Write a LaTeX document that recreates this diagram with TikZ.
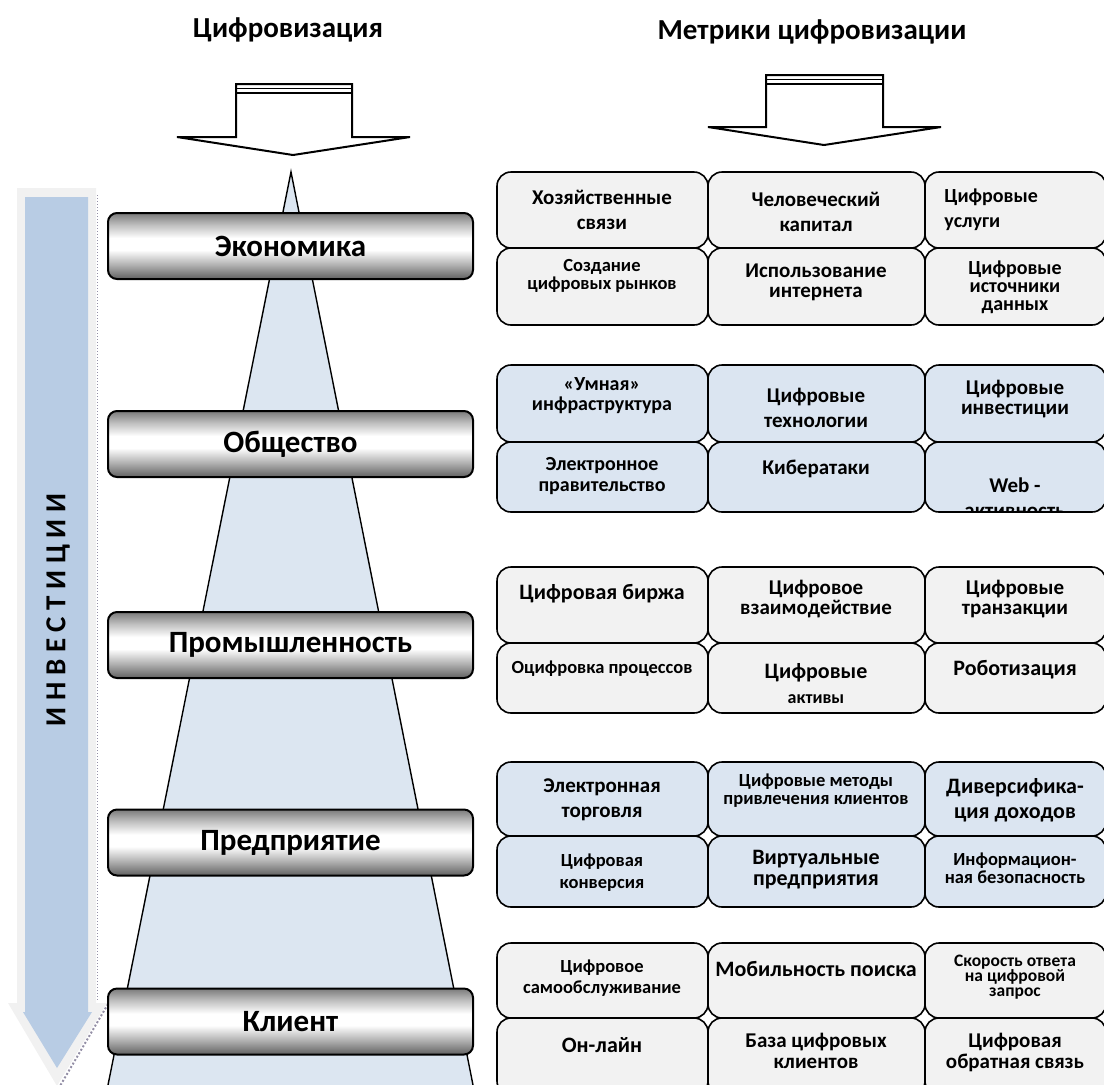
\documentclass[tikz,border=0pt]{standalone}
\usepackage{fontspec}
\setmainfont{Carlito}
\usetikzlibrary{positioning}

\newlength{\du}
\setlength{\du}{0.5pt}

\definecolor{cellgray}{rgb}{0.949020, 0.949020, 0.949020}
\definecolor{cellblue}{rgb}{0.858824, 0.898039, 0.945098}
\definecolor{conecolor}{rgb}{0.862745, 0.901961, 0.945098}
\definecolor{investfill}{rgb}{0.721569, 0.800000, 0.894118}
\definecolor{investrim}{rgb}{0.945098, 0.945098, 0.945098}
\definecolor{investshadow}{rgb}{0.580000, 0.560000, 0.650000}

\pgfdeclareverticalshading{metalbar}{100bp}{color(0bp)=(black!62); color(25bp)=(black!62); color(36bp)=(black!30); color(47bp)=(white); color(56bp)=(white); color(66bp)=(black!25); color(75bp)=(black!52); color(100bp)=(black!52)}

\tikzset{
  levelbar/.style={draw=black, line width=1pt, rounded corners=9\du, shading=metalbar,
    minimum width=365\du, minimum height=66\du, inner sep=0pt,
    font=\fontsize{15.5}{18}\selectfont\bfseries},
  metricbox/.style={draw=black, line width=0.8pt, rounded corners=14\du, inner sep=0pt},
  metrictext/.style={align=center, inner sep=0pt, font=\fontsize{10.5}{12.5}\selectfont\bfseries},
  smalltext/.style={metrictext, font=\fontsize{9.25}{9}\selectfont\bfseries},
  bigtext/.style={metrictext, font=\fontsize{11}{12.5}\selectfont\bfseries},
  header/.style={font=\fontsize{14.5}{17}\selectfont\bfseries, inner sep=0pt}
}

\begin{document}
\begin{tikzpicture}
\pgftransformxscale{1.000000}
\pgftransformyscale{-1.000000}
\useasboundingbox (0\du,0\du) rectangle (1104\du,1084\du);
\clip (0\du,0\du) rectangle (1104\du,1084\du);
% headers
\node[header] (digit) at (288\du,30\du) {Цифровизация};
\node[header] (metrics) at (812\du,32\du) {Метрики цифровизации};
% block arrows under the headers
\draw[line width=1pt, fill=white, line join=miter] (236\du,84\du)--(352\du,84\du)--(352\du,137\du)--(410\du,137\du)--(293\du,155\du)--(177\du,137\du)--(236\du,137\du)--cycle;
\draw[line width=0.6pt] (236\du,88.5\du)--(352\du,88.5\du);
\draw[line width=0.9pt] (236\du,93\du)--(352\du,93\du);
\draw[line width=1pt, fill=white, line join=miter] (766\du,75\du)--(883\du,75\du)--(883\du,127\du)--(941\du,127\du)--(824\du,145\du)--(708\du,127\du)--(766\du,127\du)--cycle;
\draw[line width=0.6pt] (766\du,79.5\du)--(883\du,79.5\du);
\draw[line width=0.9pt] (766\du,84\du)--(883\du,84\du);
% cone
\coordinate (conetip) at (291\du,172\du);
\fill[conecolor] (conetip)--(476\du,1100\du)--(105\du,1100\du)--cycle;
\draw[line width=0.7pt] (105\du,1100\du)--(conetip)--(476\du,1100\du);
% investment arrow
\fill[investrim] (17\du,188\du)--(96\du,188\du)--(96\du,1003\du)--(107\du,1003\du)--(57\du,1086\du)--(8\du,1003\du)--(17\du,1003\du)--cycle;
\fill[investfill] (25\du,197\du)--(88\du,197\du)--(88\du,1012\du)--(92\du,1012\du)--(57\du,1068\du)--(23\du,1012\du)--(25\du,1012\du)--cycle;
\draw[investshadow, line width=0.5pt, densely dotted] (97.5\du,195\du)--(97.5\du,1001\du);
\draw[investshadow, line width=1pt, densely dotted] (108\du,1004\du)--(60\du,1086\du);
\node[rotate=90, inner sep=0pt, font=\fontsize{14.5}{16}\selectfont\bfseries] (invest) at (58\du,610\du) {И Н В Е С Т И Ц И И};
% levels
\node[levelbar] (economy) at (290.5\du,246\du) {Экономика};
\node[levelbar] (society) at (290.5\du,444\du) {Общество};
\node[levelbar] (industry) at (290.5\du,645\du) {Промышленность};
\node[levelbar] (enterprise) at (290.5\du,842.5\du) {Предприятие};
\node[levelbar] (client) at (290.5\du,1021.5\du) {Клиент};
% metrics: economy
\node[metricbox, fill=cellgray, minimum width=211\du, minimum height=76\du] (m11) at (602.5\du,210\du) {};
\node[metricbox, fill=cellgray, minimum width=217\du, minimum height=76\du] (m12) at (816.5\du,210\du) {};
\node[metricbox, fill=cellgray, minimum width=181\du, minimum height=76\du] (m13) at (1015.5\du,210\du) {};
\node[metricbox, fill=cellgray, minimum width=211\du, minimum height=77\du] (m14) at (602.5\du,286.5\du) {};
\node[metricbox, fill=cellgray, minimum width=217\du, minimum height=77\du] (m15) at (816.5\du,286.5\du) {};
\node[metricbox, fill=cellgray, minimum width=181\du, minimum height=77\du] (m16) at (1015.5\du,286.5\du) {};
\node[metrictext] (t11) at (602\du,210\du) {Хозяйственные\\связи};
\node[metrictext] (t12) at (816\du,212\du) {Человеческий\\капитал};
\node[metrictext, align=left, anchor=west, font=\fontsize{10}{12.5}\selectfont\bfseries] (t13) at (944\du,210\du) {Цифровые\\услуги};
\node[smalltext] (t14) at (602\du,276\du) {Создание\\цифровых рынков};
\node[metrictext, font=\fontsize{10.5}{10}\selectfont\bfseries] (t15) at (816\du,282\du) {Использование\\интернета};
\node[metrictext, font=\fontsize{10}{9}\selectfont\bfseries] (t16) at (1015\du,287\du) {Цифровые\\источники\\данных};
% metrics: society
\node[metricbox, fill=cellblue, minimum width=211\du, minimum height=77\du] (m21) at (602.5\du,403.5\du) {};
\node[metricbox, fill=cellblue, minimum width=217\du, minimum height=77\du] (m22) at (816.5\du,403.5\du) {};
\node[metricbox, fill=cellblue, minimum width=181\du, minimum height=77\du] (m23) at (1015.5\du,403.5\du) {};
\node[metricbox, fill=cellblue, minimum width=211\du, minimum height=70\du] (m24) at (602.5\du,477\du) {};
\node[metricbox, fill=cellblue, minimum width=217\du, minimum height=70\du] (m25) at (816.5\du,477\du) {};
\node[metricbox, fill=cellblue, minimum width=181\du, minimum height=70\du] (m26) at (1015.5\du,477\du) {};
\node[metrictext, font=\fontsize{10}{10}\selectfont\bfseries] (t21) at (602\du,396\du) {«Умная»\\инфраструктура};
\node[metrictext, font=\fontsize{10.5}{12.5}\selectfont\bfseries] (t22) at (816\du,408\du) {Цифровые\\технологии};
\node[metrictext, font=\fontsize{10.5}{10}\selectfont\bfseries] (t23) at (1015\du,399\du) {Цифровые\\инвестиции};
\node[metrictext, font=\fontsize{10}{10.5}\selectfont\bfseries] (t24) at (602\du,476\du) {Электронное\\правительство};
\node[metrictext] (t25) at (816\du,469\du) {Кибератаки};
\begin{scope}
\clip (925\du,442\du) rectangle (1106\du,510\du);
\node[metrictext, font=\fontsize{10.5}{12.5}\selectfont\bfseries] (t26) at (1015\du,498\du) {Web -\\активность};
\end{scope}
% metrics: industry
\node[metricbox, fill=cellgray, minimum width=211\du, minimum height=76\du] (m31) at (602.5\du,605\du) {};
\node[metricbox, fill=cellgray, minimum width=217\du, minimum height=76\du] (m32) at (816.5\du,605\du) {};
\node[metricbox, fill=cellgray, minimum width=181\du, minimum height=76\du] (m33) at (1015.5\du,605\du) {};
\node[metricbox, fill=cellgray, minimum width=211\du, minimum height=70\du] (m34) at (602.5\du,678\du) {};
\node[metricbox, fill=cellgray, minimum width=217\du, minimum height=70\du] (m35) at (816.5\du,678\du) {};
\node[metricbox, fill=cellgray, minimum width=181\du, minimum height=70\du] (m36) at (1015.5\du,678\du) {};
\node[bigtext] (t31) at (602\du,594\du) {Цифровая биржа};
\node[metrictext, font=\fontsize{10.5}{10}\selectfont\bfseries] (t32) at (816\du,599\du) {Цифровое\\взаимодействие};
\node[metrictext, font=\fontsize{10.5}{10}\selectfont\bfseries] (t33) at (1015\du,599\du) {Цифровые\\транзакции};
\node[smalltext] (t34) at (602\du,669\du) {Оцифровка процессов};
\node[metrictext] (t35) at (816\du,684\du) {{\fontsize{11}{12.5}\selectfont Цифровые}\\{\fontsize{9}{12.5}\selectfont активы}};
\node[bigtext] (t36) at (1015\du,670\du) {Роботизация};
% metrics: enterprise
\node[metricbox, fill=cellblue, minimum width=211\du, minimum height=74\du] (m41) at (602.5\du,799\du) {};
\node[metricbox, fill=cellblue, minimum width=217\du, minimum height=74\du] (m42) at (816.5\du,799\du) {};
\node[metricbox, fill=cellblue, minimum width=181\du, minimum height=74\du] (m43) at (1015.5\du,799\du) {};
\node[metricbox, fill=cellblue, minimum width=211\du, minimum height=71\du] (m44) at (602.5\du,871.5\du) {};
\node[metricbox, fill=cellblue, minimum width=217\du, minimum height=71\du] (m45) at (816.5\du,871.5\du) {};
\node[metricbox, fill=cellblue, minimum width=181\du, minimum height=71\du] (m46) at (1015.5\du,871.5\du) {};
\node[metrictext, font=\fontsize{10.5}{12.5}\selectfont\bfseries] (t41) at (602\du,800\du) {Электронная\\торговля};
\node[smalltext] (t42) at (816\du,791\du) {Цифровые методы\\привлечения клиентов};
\node[bigtext] (t43) at (1015\du,800\du) {Диверсифика-\\ция доходов};
\node[metrictext, font=\fontsize{9.25}{11}\selectfont\bfseries] (t44) at (602\du,873\du) {Цифровая\\конверсия};
\node[bigtext, font=\fontsize{11}{10.5}\selectfont\bfseries] (t45) at (816\du,870\du) {Виртуальные\\предприятия};
\node[smalltext] (t46) at (1015\du,868\du) {Информацион-\\ная безопасность};
% metrics: client
\node[metricbox, fill=cellgray, minimum width=211\du, minimum height=75\du] (m51) at (602.5\du,980.5\du) {};
\node[metricbox, fill=cellgray, minimum width=217\du, minimum height=75\du] (m52) at (816.5\du,980.5\du) {};
\node[metricbox, fill=cellgray, minimum width=181\du, minimum height=75\du] (m53) at (1015.5\du,980.5\du) {};
\node[metricbox, fill=cellgray, minimum width=211\du, minimum height=77\du] (m54) at (602.5\du,1056.5\du) {};
\node[metricbox, fill=cellgray, minimum width=217\du, minimum height=77\du] (m55) at (816.5\du,1056.5\du) {};
\node[metricbox, fill=cellgray, minimum width=181\du, minimum height=77\du] (m56) at (1015.5\du,1056.5\du) {};
\node[metrictext, font=\fontsize{9.25}{10.5}\selectfont\bfseries] (t51) at (602\du,978\du) {Цифровое\\самообслуживание};
\node[bigtext] (t52) at (816\du,969\du) {Мобильность поиска};
\node[metrictext, font=\fontsize{8.75}{7.5}\selectfont\bfseries] (t53) at (1015\du,977\du) {Скорость ответа\\на цифровой\\запрос};
\node[bigtext] (t54) at (602\du,1045\du) {Он-лайн};
\node[metrictext, font=\fontsize{10.5}{10.5}\selectfont\bfseries] (t55) at (816\du,1051\du) {База цифровых\\клиентов};
\node[metrictext, font=\fontsize{10.5}{10.5}\selectfont\bfseries] (t56) at (1015\du,1052\du) {Цифровая\\обратная связь};
\end{tikzpicture}
\end{document}
